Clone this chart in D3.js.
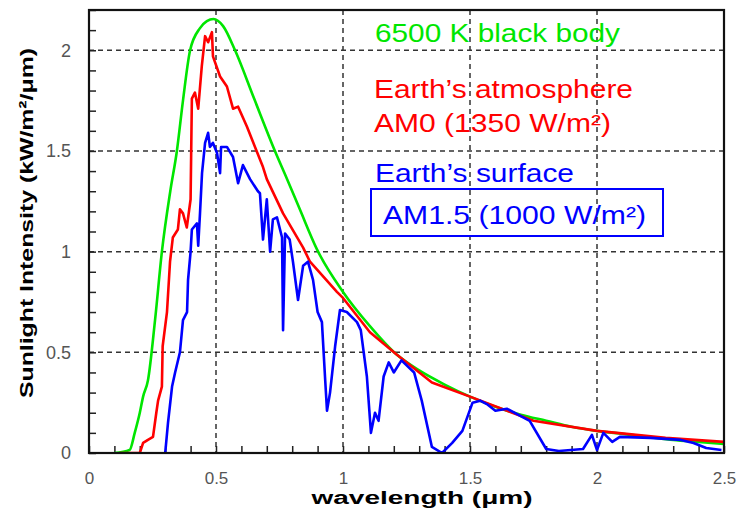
<!DOCTYPE html>
<html>
<head>
<meta charset="utf-8">
<script src="https://cdn.jsdelivr.net/npm/d3@7"></script>
<style>
  body { margin: 0; background: #fff; }
  text { font-family: "Liberation Sans", Arial, sans-serif; }
</style>
</head>
<body>
<svg id="chart" width="740" height="517"></svg>
<script>
// 6500 K black body (green)
var bbWl  = [0.10, 0.16, 0.18, 0.20, 0.213, 0.232, 0.26, 0.287, 0.32, 0.346, 0.37, 0.398, 0.437, 0.464, 0.49, 0.528, 0.575, 0.65, 0.732, 0.78, 0.83, 0.898, 1.0, 1.106, 1.21, 1.3, 1.4, 1.5, 1.6, 1.7, 1.8, 1.9, 2.0, 2.1, 2.2, 2.3, 2.4, 2.5];
var bbVal = [0, 0.015, 0.10, 0.20, 0.28, 0.36, 0.66, 1.0, 1.3, 1.5, 1.75, 2.0, 2.11, 2.145, 2.155, 2.12, 2.0, 1.76, 1.5, 1.36, 1.21, 1.01, 0.80, 0.63, 0.49, 0.41, 0.34, 0.28, 0.23, 0.19, 0.16, 0.13, 0.11, 0.095, 0.08, 0.065, 0.055, 0.045];

// AM0, outside the atmosphere (red)
var am0Wl  = [0.12, 0.20, 0.213, 0.232, 0.252, 0.265, 0.272, 0.287, 0.29, 0.307, 0.319, 0.33, 0.35, 0.358, 0.37, 0.385, 0.40, 0.405, 0.417, 0.43, 0.444, 0.457, 0.469, 0.484, 0.488, 0.516, 0.543, 0.567, 0.587, 0.622, 0.685, 0.70, 0.764, 0.843, 0.87, 0.976, 1.0, 1.106, 1.21, 1.35, 1.5, 1.75, 2.0, 2.27, 2.5];
var am0Val = [0, 0, 0.05, 0.065, 0.08, 0.2, 0.26, 0.33, 0.53, 0.70, 0.95, 1.07, 1.11, 1.21, 1.19, 1.12, 1.26, 1.76, 1.79, 1.71, 1.92, 2.07, 2.04, 2.09, 1.97, 1.87, 1.82, 1.71, 1.72, 1.62, 1.42, 1.36, 1.19, 1.02, 0.95, 0.80, 0.77, 0.60, 0.49, 0.35, 0.28, 0.16, 0.11, 0.075, 0.055];

// AM1.5, earth's surface (blue)
var am15Wl  = [0.30, 0.311, 0.327, 0.339, 0.358, 0.37, 0.386, 0.39, 0.40, 0.405, 0.425, 0.43, 0.437, 0.445, 0.457, 0.469, 0.476, 0.488, 0.504, 0.516, 0.52, 0.543, 0.567, 0.587, 0.606, 0.634, 0.665, 0.673, 0.685, 0.70, 0.713, 0.724, 0.74, 0.76, 0.764, 0.772, 0.79, 0.803, 0.823, 0.843, 0.862, 0.882, 0.90, 0.917, 0.93, 0.937, 0.949, 0.969, 0.988, 1.015, 1.055, 1.07, 1.094, 1.11, 1.126, 1.14, 1.16, 1.18, 1.2, 1.23, 1.28, 1.31, 1.35, 1.39, 1.43, 1.47, 1.51, 1.54, 1.57, 1.6, 1.645, 1.735, 1.8, 1.85, 1.945, 1.98, 2.0, 2.025, 2.06, 2.09, 2.21, 2.33, 2.38, 2.43, 2.49];
var am15Val = [0, 0.15, 0.33, 0.40, 0.50, 0.66, 0.70, 0.86, 1.0, 1.11, 1.14, 1.03, 1.19, 1.39, 1.54, 1.59, 1.52, 1.54, 1.49, 1.39, 1.52, 1.52, 1.47, 1.34, 1.43, 1.36, 1.30, 1.29, 1.06, 1.26, 1.0, 1.16, 1.17, 1.07, 0.61, 1.09, 1.06, 0.95, 0.76, 0.93, 0.95, 0.86, 0.70, 0.65, 0.36, 0.21, 0.30, 0.53, 0.71, 0.70, 0.65, 0.61, 0.38, 0.10, 0.20, 0.16, 0.38, 0.45, 0.40, 0.46, 0.40, 0.26, 0.03, 0.0, 0.05, 0.11, 0.25, 0.26, 0.24, 0.21, 0.22, 0.16, 0.02, 0.01, 0.02, 0.09, 0.015, 0.10, 0.055, 0.08, 0.075, 0.065, 0.05, 0.025, 0.015];

var xMajor = [0, 0.5, 1, 1.5, 2, 2.5];
var yMajor = [0, 0.5, 1, 1.5, 2];

var svg = d3.select("#chart");

var x = d3.scaleLinear().domain([0, 2.5]).range([89, 724]);
var y = d3.scaleLinear().domain([0, 2.2]).range([453, 10]);

var series = [
  { wl: bbWl, val: bbVal, color: "#00e600", curve: d3.curveMonotoneX },
  { wl: am0Wl, val: am0Val, color: "#ff0000", curve: d3.curveLinear },
  { wl: am15Wl, val: am15Val, color: "#0000ff", curve: d3.curveLinear }
];

// grid
var gridColor = "#333";
svg.append("g").selectAll("line")
  .data(xMajor.slice(1, -1))
  .enter().append("line")
  .attr("x1", function(d){ return x(d); })
  .attr("x2", function(d){ return x(d); })
  .attr("y1", y(2.2)).attr("y2", y(0))
  .attr("stroke", gridColor).attr("stroke-width", 1.5)
  .attr("stroke-dasharray", "5,4");

svg.append("g").selectAll("line")
  .data(yMajor.slice(1))
  .enter().append("line")
  .attr("y1", function(d){ return y(d); })
  .attr("y2", function(d){ return y(d); })
  .attr("x1", x(0)).attr("x2", x(2.5))
  .attr("stroke", gridColor).attr("stroke-width", 1.5)
  .attr("stroke-dasharray", "5,4");

// minor ticks, pointing inward
var tickX = svg.append("g")
  .attr("transform", "translate(0," + y(0) + ")")
  .call(d3.axisBottom(x).tickValues(d3.range(0, 26).map(function(i){ return i / 10; })).tickSize(-7).tickFormat(""));
tickX.select(".domain").remove();
tickX.selectAll("line").attr("stroke", "#222").attr("stroke-width", 1.5);

var tickY = svg.append("g")
  .attr("transform", "translate(" + x(0) + ",0)")
  .call(d3.axisLeft(y).tickValues(d3.range(0, 23).map(function(i){ return i / 10; })).tickSize(-7).tickFormat(""));
tickY.select(".domain").remove();
tickY.selectAll("line").attr("stroke", "#222").attr("stroke-width", 1.5);

// tick labels
var labX = svg.append("g")
  .attr("transform", "translate(0," + y(0) + ")")
  .call(d3.axisBottom(x).tickValues(xMajor).tickSize(0).tickPadding(19).tickFormat(d3.format("")));
labX.select(".domain").remove();
labX.selectAll("text").attr("font-size", 17).attr("fill", "#555")
  .style("font-family", "'Liberation Sans', Arial, sans-serif");

var labY = svg.append("g")
  .attr("transform", "translate(" + x(0) + ",0)")
  .call(d3.axisLeft(y).tickValues(yMajor).tickSize(0).tickPadding(18).tickFormat(d3.format("")));
labY.select(".domain").remove();
labY.selectAll("text").attr("font-size", 18).attr("fill", "#555")
  .style("font-family", "'Liberation Sans', Arial, sans-serif");

// curves
svg.append("clipPath").attr("id", "plotClip")
  .append("rect").attr("x", x(0)).attr("y", y(2.2))
  .attr("width", x(2.5) - x(0)).attr("height", y(0) - y(2.2));

svg.append("g").attr("clip-path", "url(#plotClip)")
  .selectAll("path")
  .data(series)
  .enter().append("path")
  .attr("d", function(s){
    var line = d3.line()
      .curve(s.curve)
      .x(function(d){ return x(d[0]); })
      .y(function(d){ return y(d[1]); });
    return line(d3.zip(s.wl, s.val));
  })
  .attr("fill", "none")
  .attr("stroke", function(s){ return s.color; })
  .attr("stroke-width", 2.6)
  .attr("stroke-linejoin", "round");

// frame
svg.append("rect")
  .attr("x", x(0)).attr("y", y(2.2))
  .attr("width", x(2.5) - x(0)).attr("height", y(0) - y(2.2))
  .attr("fill", "none").attr("stroke", "#111").attr("stroke-width", 2.2);

// axis titles
svg.append("text")
  .attr("x", 422).attr("y", 504)
  .attr("text-anchor", "middle")
  .attr("font-size", 18).attr("font-weight", "bold")
  .attr("textLength", 221).attr("lengthAdjust", "spacingAndGlyphs")
  .text("wavelength (μm)");

svg.append("text")
  .attr("transform", "translate(33,223) rotate(-90)")
  .attr("text-anchor", "middle")
  .attr("font-size", 19).attr("font-weight", "bold")
  .attr("textLength", 350).attr("lengthAdjust", "spacingAndGlyphs")
  .text("Sunlight Intensity (kW/m²/μm)");

// annotations
var notes = [
  { t: "6500 K black body", x: 375, y: 42, w: 245, c: "#00e600" },
  { t: "Earth’s atmosphere", x: 374, y: 98, w: 259, c: "#ff0000" },
  { t: "AM0 (1350 W/m²)", x: 374, y: 132, w: 237, c: "#ff0000" },
  { t: "Earth’s surface", x: 375, y: 182, w: 199, c: "#0000ff" },
  { t: "AM1.5 (1000 W/m²)", x: 383, y: 224, w: 263, c: "#0000ff" }
];

svg.append("rect")
  .attr("x", 371).attr("y", 189).attr("width", 292).attr("height", 47)
  .attr("fill", "none").attr("stroke", "#0000ff").attr("stroke-width", 2);

svg.append("g").selectAll("text")
  .data(notes)
  .enter().append("text")
  .attr("x", function(d){ return d.x; })
  .attr("y", function(d){ return d.y; })
  .attr("font-size", 25)
  .attr("fill", function(d){ return d.c; })
  .attr("textLength", function(d){ return d.w; })
  .attr("lengthAdjust", "spacingAndGlyphs")
  .text(function(d){ return d.t; });
</script>
</body>
</html>
